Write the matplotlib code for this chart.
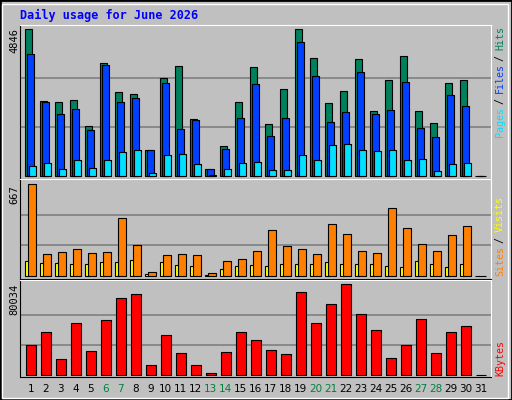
import matplotlib
matplotlib.use("Agg")
import matplotlib.pyplot as plt
from matplotlib.patches import Rectangle

W, H = 512, 400
days = list(range(1, 32))
weekend = {6, 7, 13, 14, 20, 21, 27, 28}

hits = [4846, 2467, 2433, 2500, 1641, 3722, 2764, 2698, 848, 3227, 3623, 1872, 220, 980, 2433,
        3590, 1707, 2863, 4846, 3888, 2401, 2797, 3855, 2137, 3161, 3954, 2137, 1740, 3062, 3161, 0]
files = [4020, 2433, 2037, 2203, 1509, 3656, 2433, 2566, 848, 3062, 1542, 1839, 220, 881, 1905,
         3029, 1311, 1905, 4416, 3293, 1773, 2103, 3425, 2037, 2170, 3095, 1575, 1278, 2665, 2302, 0]
pages = [319, 419, 220, 518, 253, 518, 782, 848, 88, 683, 716, 385, 22, 220, 419,
         452, 187, 187, 683, 518, 1013, 1046, 848, 815, 848, 518, 551, 154, 385, 419, 0]
visits = [667, 160, 174, 196, 167, 174, 421, 225, 29, 152, 160, 152, 22, 109, 123,
          181, 334, 218, 196, 160, 377, 305, 181, 167, 493, 348, 232, 181, 297, 363, 0]
sites = [109, 94, 94, 87, 87, 102, 102, 116, 15, 102, 80, 73, 7, 51, 73,
         80, 73, 87, 87, 87, 102, 87, 87, 87, 73, 65, 109, 87, 65, 87, 0]
kbytes = [26388, 37823, 14074, 45739, 21110, 48378, 67729, 71248, 8796, 35184, 19351, 8796, 1759,
          20231, 37823, 30786, 21990, 18472, 73007, 45739, 62452, 80034, 53656, 39582, 14953,
          26388, 49258, 19351, 37823, 43101, 0]

BG = "#C0C0C0"
fig = plt.figure(figsize=(W / 100, H / 100), dpi=100, facecolor=BG)
fig.patches.append(Rectangle((0, 0), 1, 1, transform=fig.transFigure, fill=False,
                             edgecolor="black", lw=2))
fig.patches.append(Rectangle((2 / W, 2 / H), 1 - 6 / W, 1 - 6 / H, transform=fig.transFigure,
                             fill=False, edgecolor="white", lw=1))

X0, X1 = 20, 491
SLOT = 15.0


def panel(top, bottom, base, vtop, vmax):
    ax = fig.add_axes([X0 / W, 1 - bottom / H, (X1 - X0) / W, (bottom - top) / H])
    ax.set_facecolor(BG)
    scale = vmax / (base - vtop)
    ax.set_ylim(-(bottom - base) * scale, (base - top) * scale)
    ax.set_xlim(0, (X1 - X0) / SLOT)
    ax.set_xticks([])
    ax.set_yticks([])
    for y in (vmax / 3, 2 * vmax / 3):
        ax.axhline(y, color="#808080", lw=1.2, zorder=0)
    ax.spines["left"].set_color("black")
    ax.spines["bottom"].set_color("black")
    ax.spines["top"].set_color("white")
    ax.spines["right"].set_color("white")
    return ax


def bars(ax, vals, off, w, color):
    xs = [(d - 1) + off for d in days]
    ax.bar(xs, vals, width=w, align="edge", color=color, edgecolor="black", lw=0.8, zorder=2)


ax1 = panel(25, 179, 176, 29, 4846)
bars(ax1, hits, 0.35, 0.47, "#00805C")
bars(ax1, files, 0.48, 0.47, "#0040FF")
bars(ax1, pages, 0.62, 0.47, "#00E0FF")

ax2 = panel(179, 279, 276, 184.3, 667)
bars(ax2, sites, 0.35, 0.27, "#FFFF00")
bars(ax2, visits, 0.55, 0.53, "#FF8000")

ax3 = panel(280, 377, 375.3, 284.3, 80034)
bars(ax3, kbytes, 0.42, 0.67, "#FF0000")

MONO = "DejaVu Sans Mono"
fig.text(20 / W, 1 - 15 / H, "Daily usage for June 2026", family=MONO, weight="bold",
         color="#0000FF", fontsize=8.5, va="center", ha="left")

for ytop, lab in ((28, "4846"), (185, "667"), (284, "80034")):
    fig.text(14 / W, 1 - ytop / H, lab, rotation=90, family=MONO, fontsize=7.5,
             va="top", ha="center")


def side(pieces, ybottom, step=5.45):
    # rotated label built from coloured pieces; spaces only advance the position
    i = 0
    for s, c in pieces:
        lead = len(s) - len(s.lstrip())
        txt = s.strip()
        if txt:
            fig.text(500 / W, 1 - (ybottom - step * (i + lead)) / H, txt, rotation=90,
                     family=MONO, fontsize=7.2, color=c, va="bottom", ha="center")
        i += len(s)


side([("Pages", "#00E0FF"), (" / ", "black"), ("Files", "#0040FF"), (" / ", "black"),
      ("Hits", "#00805C")], 137)
side([("Sites", "#FF8000"), (" / ", "black"), ("Visits", "#FFFF00")], 276)
side([("KBytes", "#FF0000")], 376)

for d in days:
    x = X0 + (d - 1) * SLOT + 0.72 * SLOT
    fig.text(x / W, 1 - 389 / H, str(d), ha="center", va="center", fontsize=7.5,
             color="#008040" if d in weekend else "black")

fig.savefig("out.png", dpi=100, facecolor=BG)
